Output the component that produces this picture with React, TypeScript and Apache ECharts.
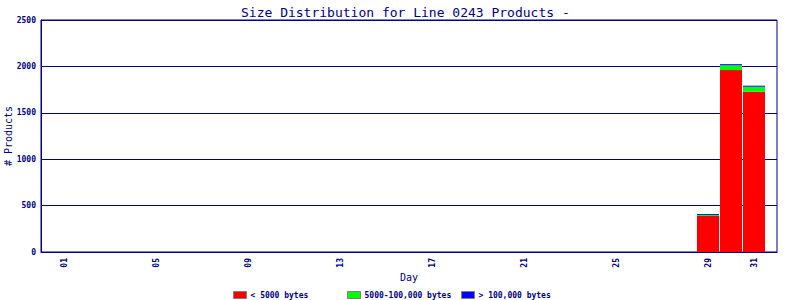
import React, { useEffect, useRef } from "react";
import * as echarts from "echarts";

const days = ["01","02","03","04","05","06","07","08","09","10","11","12","13","14","15","16","17","18","19","20","21","22","23","24","25","26","27","28","29","30","31"];
const small = [0,0,0,0,0,0,0,0,0,0,0,0,0,0,0,0,0,0,0,0,0,0,0,0,0,0,0,0,388,1960,1727];
const mid = [0,0,0,0,0,0,0,0,0,0,0,0,0,0,0,0,0,0,0,0,0,0,0,0,0,0,0,0,11,52,54];
const large = [0,0,0,0,0,0,0,0,0,0,0,0,0,0,0,0,0,0,0,0,0,0,0,0,0,0,0,0,10,12,11];
const xTickLabels = ["01","05","09","13","17","21","25","29","31"];
const seriesNames = ["< 5000 bytes", "5000-100,000 bytes", "> 100,000 bytes"];
const seriesColors = ["#ff0000", "#00ff00", "#0000ff"];

const NAVY = "#000080";
const MONO = "DejaVu Sans Mono, monospace";

export default function App() {
  const ref = useRef<HTMLDivElement>(null);
  useEffect(() => {
    if (!ref.current) return;
    const chart = echarts.init(ref.current, null, { renderer: "svg" });
    const values = [small, mid, large];
    const legendLefts = [233, 347, 461];
    // padded axis: one empty slot before day 01 and after day 31
    const axisCats = ["", ...days, " "];
    chart.setOption({
      animation: false,
      backgroundColor: "#ffffff",
      title: {
        text: "Size Distribution for Line 0243 Products -",
        left: 236,
        top: 1,
        textStyle: { color: NAVY, fontFamily: MONO, fontSize: 13, fontWeight: "normal" },
      },
      legend: seriesNames.map((n, i) => ({
        data: [n],
        left: legendLefts[i],
        top: 291,
        itemWidth: 13,
        itemHeight: 7,
        itemGap: 0,
        padding: 0,
        icon: "rect",
        selectedMode: false,
        itemStyle: { borderColor: "#808080", borderWidth: 1 },
        textStyle: { color: NAVY, fontFamily: MONO, fontSize: 8, fontWeight: "bold", padding: [0, 0, 0, -1] },
      })),
      grid: {
        left: 41, right: 23, top: 20, bottom: 48,
        outerBoundsMode: "none",
        containLabel: false,
        show: true, borderColor: NAVY, borderWidth: 1,
      },
      xAxis: {
        type: "category",
        data: axisCats,
        boundaryGap: false,
        name: "Day",
        nameLocation: "middle",
        nameGap: 20,
        nameMoveOverlap: false,
        nameTextStyle: { color: NAVY, fontFamily: MONO, fontSize: 10, verticalAlign: "top" },
        axisLine: { lineStyle: { color: NAVY, width: 1 } },
        axisTick: { show: false },
        splitLine: { show: false },
        axisLabel: {
          interval: 0,
          rotate: 90,
          color: NAVY,
          fontFamily: MONO,
          fontSize: 8,
          fontWeight: "bold",
          margin: 6,
          formatter: (v: string) => (xTickLabels.includes(v) ? v : ""),
        },
      },
      yAxis: {
        type: "value",
        min: 0,
        max: 2500,
        interval: 500,
        name: "# Products",
        nameLocation: "middle",
        nameGap: 28,
        nameMoveOverlap: false,
        nameTextStyle: { color: NAVY, fontFamily: MONO, fontSize: 10 },
        axisLine: { show: true, lineStyle: { color: NAVY, width: 1 } },
        axisTick: { show: false },
        splitLine: { lineStyle: { color: NAVY, width: 1 } },
        axisLabel: {
          color: NAVY, fontFamily: MONO, fontSize: 8, fontWeight: "bold", margin: 5,
          formatter: (v: number) => String(v),
        },
      },
      series: seriesNames.map((n, i) => ({
        name: n,
        type: "bar",
        stack: "total",
        barWidth: 22,
        itemStyle: { color: seriesColors[i] },
        data: [null, ...values[i], null],
      })),
    });
    return () => chart.dispose();
  }, []);
  return <div ref={ref} style={{ width: 800, height: 300, position: "absolute", left: 0, top: 0 }} />;
}
